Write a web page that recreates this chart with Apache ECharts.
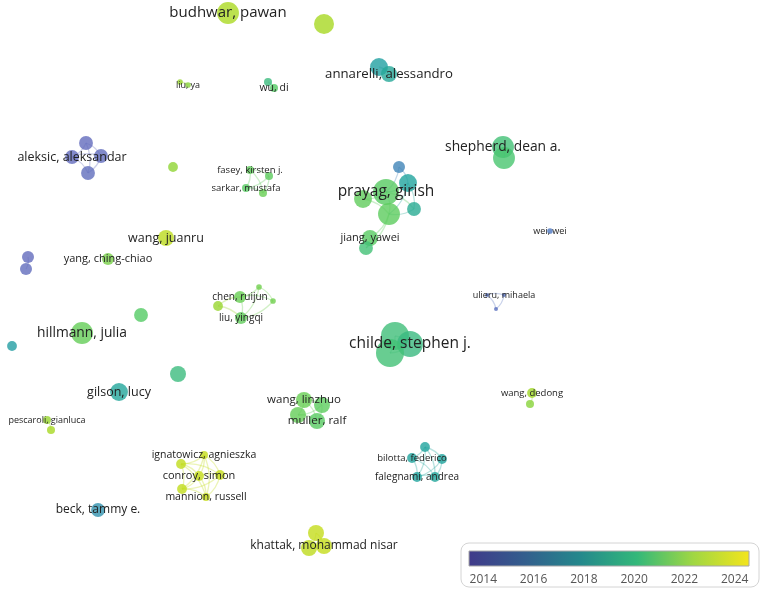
<!DOCTYPE html>
<html>
<head>
<meta charset="utf-8">
<script src="https://cdn.jsdelivr.net/npm/echarts@6/dist/echarts.min.js"></script>
<style>html,body{margin:0;padding:0;background:#fff}#chart{width:762px;height:591px}</style>
</head>
<body>
<div id="chart"></div>
<script>
// ---- data ----
const nodeLabels = [
  "budhwar, pawan", null, null, "annarelli, alessandro", null, "liu, ya", null, "wu, di",
  null, "aleksic, aleksandar", null, null, null,
  "fasey, kirsten j.", null, "sarkar, mustafa", null,
  null, null, "prayag, girish", null, null, null, "jiang, yawei", null,
  "shepherd, dean a.", null, "wei, wei", "wang, juanru", null, null, "yang, ching-chiao",
  null, "chen, ruijun", null, null, "liu, yingqi",
  null, "hillmann, julia", null,
  null, "childe, stephen j.", null,
  null, "ulieru, mihaela", null,
  null, "gilson, lucy",
  "wang, linzhuo", null, null, "muller, ralf",
  "wang, dedong", null, "pescaroli, gianluca", null,
  "ignatowicz, agnieszka", null, "conroy, simon", null, null, "mannion, russell",
  null, "bilotta, federico", null, "falegnami, andrea", null,
  "beck, tammy e.", null, null, "khattak, mohammad nisar"
];
const nodeX = [228,324,379,389,180,188,268,274,86,72,101,88,173,250,269,246,263,
  399,408,386,363,414,389,370,366,503,504,550,166,28,26,108,
  259,240,273,218,241,141,82,12,395,410,390,487,504,496,178,119,
  304,322,298,317,532,530,47,51,204,181,199,220,182,206,
  425,412,442,417,435,98,316,309,324];
const nodeY = [13,24,67,74,82,85,82,88,143,157,156,173,167,170,176,188,193,
  167,183,192,199,209,214,238,248,147,158,231,238,257,269,259,
  287,297,301,306,318,315,333,346,336,344,353,295,295,309,374,392,
  400,405,415,421,393,404,420,430,455,464,476,475,489,497,
  447,458,459,477,477,510,533,548,546];
const nodeWeight = [30,25,20,16,2,2,4,4,12,12,12,12,6,4,4,4,4,
  9,20,42,20,12,30,16,12,30,30,2,16,9,9,9,
  2,9,2,6,9,12,30,6,49,42,49,1,1,1,16,20,
  16,16,16,16,6,4,4,4,4,6,6,6,6,4,
  6,6,6,6,6,12,16,16,16];
const nodeYear = [2022.5,2022.4,2017.8,2018.2,2022.0,2021.6,2019.3,2020.3,
  2014.0,2014.0,2014.1,2014.2,2021.8,2020.6,2020.5,2020.4,2020.8,
  2016.3,2018.0,2020.4,2020.6,2018.4,2020.5,2020.4,2019.6,
  2019.6,2019.9,2015.6,2023.0,2014.0,2014.1,2021.2,
  2021.0,2020.8,2021.0,2022.0,2020.6,2020.3,2020.7,2017.7,
  2019.5,2019.2,2019.6,2014.8,2014.8,2014.6,2019.3,2018.1,
  2020.8,2020.5,2020.7,2020.4,2022.2,2021.6,2022.0,2022.4,
  2023.3,2023.2,2023.3,2023.3,2023.2,2023.4,
  2018.0,2018.0,2018.0,2018.0,2018.1,2017.0,2023.3,2023.1,2023.3];
const linkSource = [2,4,6, 8,8,9,10,8,9, 13,13,13,14,15,14,
  17,17,18,19,19,19,18,20,21,22,22,23,18, 25,29,
  32,32,33,33,34,32,35,35, 40,40,41, 43,43,44,
  48,48,49,50,48,49, 52,54,
  56,56,56,56,56,57,57,57,58,58,58,59,60,57,59,
  62,62,63,63,64,64,65,62,62, 68,68,69];
const linkTarget = [3,5,7, 9,10,11,11,11,10, 14,15,16,16,16,15,
  18,19,19,20,21,22,21,22,22,23,24,24,22, 26,30,
  33,34,34,36,36,36,33,36, 41,42,42, 44,45,45,
  49,50,51,51,51,50, 53,55,
  57,58,59,60,61,58,59,60,59,60,61,61,61,61,60,
  63,64,65,66,65,66,66,65,66, 69,70,70];
const yearMin = 2013.43, yearMax = 2024.57;
const tickYears = [2014, 2016, 2018, 2020, 2022, 2024];

// ---- style ----
const barPalette = ['#403a8a', '#335e8d', '#24898c', '#33b87a', '#a0d743', '#f4e51c'];
const nodePalette = ['#6a68bb', '#4d78c2', '#1fa2a0', '#4cc96a', '#a6d824', '#ece210'];
const labelFont = {
  "budhwar, pawan":15, "prayag, girish":15.5, "childe, stephen j.":15.5,
  "annarelli, alessandro":13.2, "shepherd, dean a.":13.8, "aleksic, aleksandar":12.5,
  "hillmann, julia":13.8, "gilson, lucy":12.5, "wang, juanru":12.5, "beck, tammy e.":12,
  "khattak, mohammad nisar":12, "wang, linzhuo":11.5, "muller, ralf":11.5,
  "jiang, yawei":11, "yang, ching-chiao":11, "ignatowicz, agnieszka":10.5,
  "conroy, simon":11, "mannion, russell":10.5, "chen, ruijun":10, "liu, yingqi":10,
  "fasey, kirsten j.":9.5, "sarkar, mustafa":9.5, "wu, di":10.5, "liu, ya":9,
  "wei, wei":9, "ulieru, mihaela":9, "wang, dedong":9.5, "pescaroli, gianluca":9,
  "bilotta, federico":9.5, "falegnami, andrea":10
};
const FONT = "'Open Sans', 'Noto Sans', sans-serif";
const NODE_ALPHA = 0.8, LINK_ALPHA = 0.32;

const baseColor = nodeYear.map(y => echarts.color.lerp((y - yearMin) / (yearMax - yearMin), nodePalette));
const nodes = nodeX.map((x, i) => {
  const lab = nodeLabels[i];
  return {
    name: 'n' + i,
    value: [x, nodeY[i], nodeYear[i]],
    symbolSize: 4 * Math.sqrt(nodeWeight[i]),
    itemStyle: { color: echarts.color.modifyAlpha(baseColor[i], NODE_ALPHA) },
    label: lab ? {
      show: true, position: 'inside', formatter: lab,
      fontSize: labelFont[lab] || 11, color: '#222', fontFamily: FONT,
      textBorderWidth: 0
    } : { show: false }
  };
});
const links = linkSource.map((s, k) => ({
  source: s, target: linkTarget[k],
  lineStyle: { color: echarts.color.modifyAlpha(baseColor[s], LINK_ALPHA) }
}));

const chart = echarts.init(document.getElementById('chart'), null, { renderer: 'canvas' });
chart.setOption({
  backgroundColor: '#fff',
  animation: false,
  grid: [
    { left: 0, right: 0, top: 0, bottom: 0 },
    { left: 469, top: 551, width: 280, height: 15, show: true,
      backgroundColor: new echarts.graphic.LinearGradient(0, 0, 1, 0,
        barPalette.map((c, i) => ({ offset: i / (barPalette.length - 1), color: c }))),
      borderColor: '#a8a8a8', borderWidth: 1, z: 2 }
  ],
  xAxis: [
    { type: 'value', gridIndex: 0, min: 0, max: 762, show: false },
    { type: 'value', gridIndex: 1, min: yearMin, max: yearMax, offset: 3,
      axisLine: { show: false }, splitLine: { show: false },
      axisTick: { show: true, inside: true, length: 8, customValues: tickYears,
        lineStyle: { color: '#8a8a8a', width: 1 } },
      axisLabel: { customValues: tickYears, color: '#555', fontSize: 12, margin: 5,
        fontFamily: FONT, formatter: v => String(v) } }
  ],
  yAxis: [
    { type: 'value', gridIndex: 0, min: 0, max: 591, inverse: true, show: false },
    { type: 'value', gridIndex: 1, min: 0, max: 1, show: false }
  ],
  graphic: [
    { type: 'rect', z: -10, shape: { x: 461, y: 543, width: 298, height: 44, r: 8 },
      style: { fill: '#fff', stroke: '#d4d4d4', lineWidth: 1 } }
  ],
  series: [{
    type: 'graph',
    coordinateSystem: 'cartesian2d',
    xAxisIndex: 0, yAxisIndex: 0,
    data: nodes,
    links: links,
    lineStyle: { width: 1.3, curveness: 0.2, opacity: 1 },
    emphasis: { disabled: true },
    z: 3
  }]
});
</script>
</body>
</html>
